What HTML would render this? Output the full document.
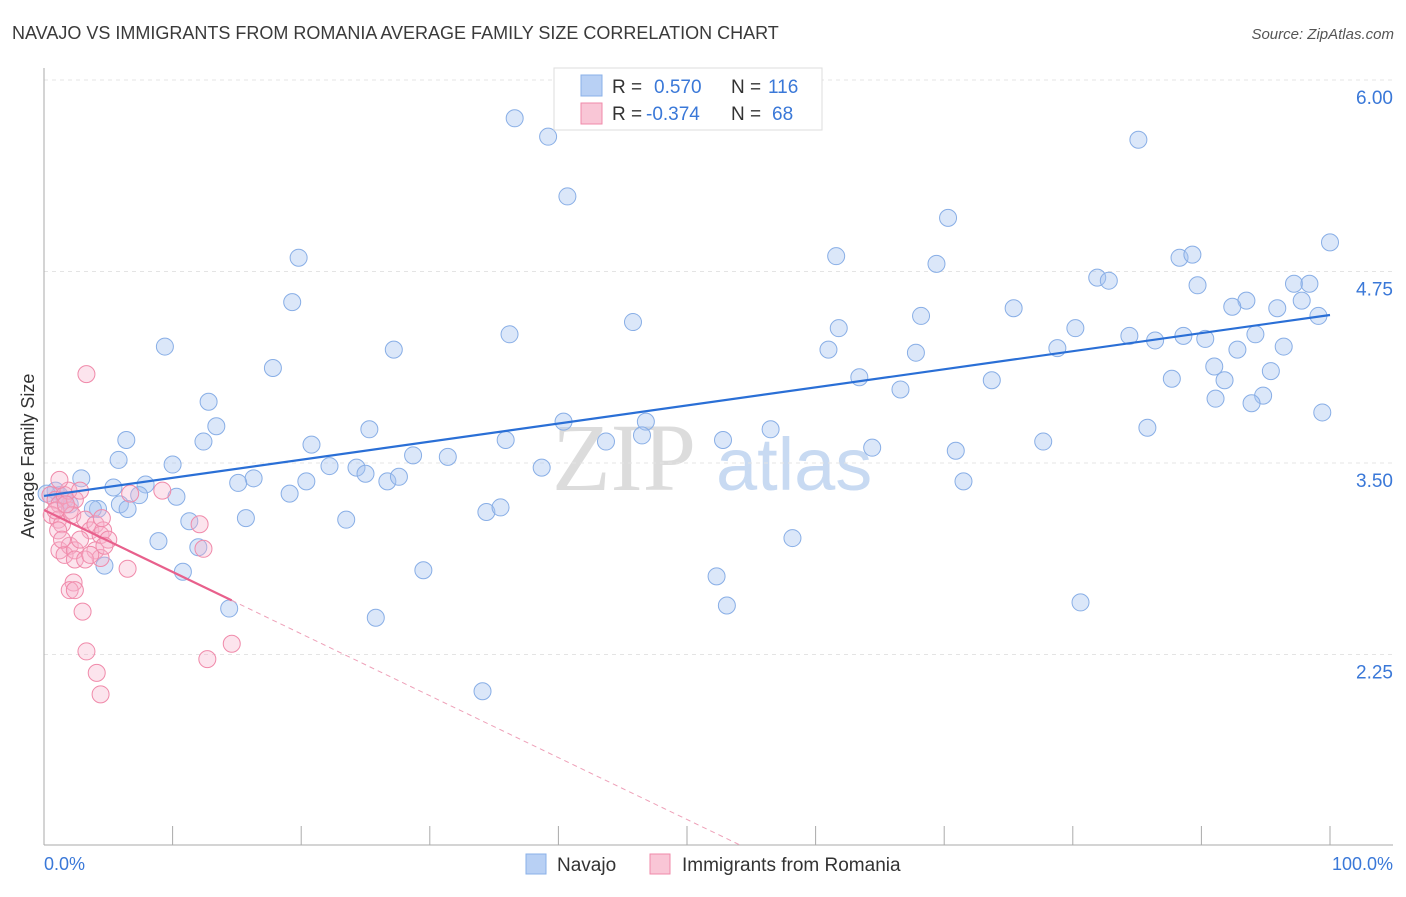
<!DOCTYPE html>
<html><head><meta charset="utf-8"><style>
body{margin:0;background:#fff;font-family:"Liberation Sans",sans-serif;}
svg text{font-family:"Liberation Sans",sans-serif;}
</style></head><body>
<svg id="c" width="1406" height="892" xmlns="http://www.w3.org/2000/svg">
<text x="12" y="39" font-size="18" fill="#3a3a3a">NAVAJO VS IMMIGRANTS FROM ROMANIA AVERAGE FAMILY SIZE CORRELATION CHART</text>
<text x="1394" y="39" font-size="15" fill="#555" font-style="italic" text-anchor="end">Source: ZipAtlas.com</text>
<g>
<text x="552" y="490" font-size="96" fill="#dcdcdc" font-family="Liberation Serif,serif" style="font-family:'Liberation Serif',serif">ZIP</text>
<text x="716" y="490" font-size="74" fill="#c8daf2">atlas</text>
</g>
<g id="grid"></g>
<g id="axes"></g>
<g id="pts"></g>
<g id="trend"></g>
<text transform="translate(34,456) rotate(-90)" font-size="18" fill="#333" text-anchor="middle">Average Family Size</text>
<text x="44" y="870" font-size="18" fill="#3a78d8">0.0%</text>
<text x="1393" y="870" font-size="18" fill="#3a78d8" text-anchor="end">100.0%</text>
<g>
<rect x="554" y="68" width="268" height="62" fill="#fff" stroke="#ddd"/>
<rect x="581" y="75" width="21" height="21" fill="#b8d0f4" stroke="#8ab0e8"/>
<rect x="581" y="103" width="21" height="21" fill="#f9c6d6" stroke="#f08aaa"/>
<text x="612" y="93" font-size="19" fill="#333">R =</text>
<text x="654" y="93" font-size="19" fill="#3a78d8">0.570</text>
<text x="731" y="93" font-size="19" fill="#333">N =</text>
<text x="768" y="93" font-size="19" fill="#3a78d8">116</text>
<text x="612" y="120" font-size="19" fill="#333">R =</text>
<text x="646" y="120" font-size="19" fill="#3a78d8">-0.374</text>
<text x="731" y="120" font-size="19" fill="#333">N =</text>
<text x="772" y="120" font-size="19" fill="#3a78d8">68</text>
</g>
<g>
<rect x="526" y="854" width="20" height="20" fill="#b8d0f4" stroke="#8ab0e8"/>
<text x="557" y="871" font-size="19" fill="#333">Navajo</text>
<rect x="650" y="854" width="20" height="20" fill="#f9c6d6" stroke="#f08aaa"/>
<text x="682" y="871" font-size="19" fill="#333">Immigrants from Romania</text>
</g>
</svg>
<script>
const yTicks=[6.00,4.75,3.50,2.25];
const yTickLabels=["6.00","4.75","3.50","2.25"];
const xTicks=[0,10,20,30,40,50,60,70,80,90,100];
const navX=[36.6,39.2,40.7,85.1,70.3,100,19.8,61.6,69.4,88.3,89.3,19.3,81.9,82.8,89.7,97.2,98.4,93.5,92.4,97.8,95.9,99.1,45.8,68.2,75.4,61.8,80.2,36.2,84.4,86.4,88.6,90.3,94.2,9.4,27.2,61.0,67.8,78.8,92.8,96.4,17.8,91.0,95.4,63.4,73.7,87.7,91.8,66.6,94.8,91.1,93.9,12.8,99.4,13.4,25.3,40.4,46.8,56.5,85.8,6.4,12.4,20.8,35.9,43.7,46.5,52.8,77.7,64.4,70.9,5.8,10.0,22.2,24.3,28.7,31.4,38.7,25.0,2.9,7.9,16.3,15.1,20.4,26.7,27.6,71.5,5.4,7.4,10.3,19.1,5.9,6.5,4.2,3.8,34.4,35.5,11.3,15.7,23.5,8.9,58.2,12.0,4.7,10.8,29.5,52.3,80.6,53.1,14.4,25.8,34.1,1.2,1.6,2.0,0.9,0.2];
const navY=[5.75,5.63,5.24,5.61,5.10,4.94,4.84,4.85,4.80,4.84,4.86,4.55,4.71,4.69,4.66,4.67,4.67,4.56,4.52,4.56,4.51,4.46,4.42,4.46,4.51,4.38,4.38,4.34,4.33,4.30,4.33,4.31,4.34,4.26,4.24,4.24,4.22,4.25,4.24,4.26,4.12,4.13,4.10,4.06,4.04,4.05,4.04,3.98,3.94,3.92,3.89,3.90,3.83,3.74,3.72,3.77,3.77,3.72,3.73,3.65,3.64,3.62,3.65,3.64,3.68,3.65,3.64,3.60,3.58,3.52,3.49,3.48,3.47,3.55,3.54,3.47,3.43,3.40,3.36,3.40,3.37,3.38,3.38,3.41,3.38,3.34,3.29,3.28,3.30,3.23,3.20,3.20,3.20,3.18,3.21,3.12,3.14,3.13,2.99,3.01,2.95,2.83,2.79,2.80,2.76,2.59,2.57,2.55,2.49,2.01,3.29,3.26,3.23,3.32,3.30];
const romX=[3.3,0.5,0.9,1.2,1.6,2.0,2.4,0.6,1.1,1.4,1.9,2.2,2.8,3.2,3.6,4.0,4.4,4.6,5.0,4.5,6.7,9.2,12.1,12.4,6.5,1.2,2.0,1.6,2.4,2.8,4.0,4.4,4.7,2.4,3.2,2.3,2.0,2.4,3.0,3.3,4.1,4.4,12.7,14.6,0.9,1.2,1.7,1.1,1.4,3.6];
const romY=[4.08,3.29,3.26,3.23,3.29,3.19,3.26,3.16,3.13,3.10,3.32,3.16,3.32,3.13,3.06,3.10,3.03,3.06,3.00,3.14,3.30,3.32,3.10,2.94,2.81,2.93,2.96,2.90,2.93,3.00,2.93,2.88,2.96,2.87,2.87,2.72,2.67,2.67,2.53,2.27,2.13,1.99,2.22,2.32,3.19,3.39,3.23,3.06,3.00,2.90];
const navTrend=[3.285,4.466];
const romTrend=[3.193,-0.0404];
const X0=44,X1=1330,YB=845,YTOP=68;
const xs=v=>X0+(X1-X0)*v/100;
const ys=v=>463-(v-3.5)*153.2;
const NS="http://www.w3.org/2000/svg";
function mk(tag,attrs,parent){const e=document.createElementNS(NS,tag);for(const k in attrs)e.setAttribute(k,attrs[k]);document.getElementById(parent).appendChild(e);return e;}
yTicks.forEach((t,i)=>{
 const l=mk('line',{x1:X0,x2:1393,y1:ys(t),y2:ys(t),stroke:'#e4e4e4','stroke-dasharray':'4,4'},'grid');
 
 
 const tx=mk('text',{x:1393,y:ys(t)+24,'font-size':19,fill:'#3a78d8','text-anchor':'end'},'grid');
 tx.textContent=yTickLabels[i];
 
 
});
let a=mk('line',{x1:X0,x2:X0,y1:YTOP,y2:YB,stroke:'#aaa'},'axes');


a=mk('line',{x1:X0,x2:1393,y1:YB,y2:YB,stroke:'#aaa'},'axes');


xTicks.forEach(t=>{const k=mk('line',{x1:xs(t),x2:xs(t),y1:826,y2:YB,stroke:'#aaa'},'axes');
 
 });
navX.forEach((x,i)=>{const c=mk('circle',{cx:xs(x),cy:ys(navY[i]),r:8.5,fill:'rgba(164,196,240,0.4)',stroke:'#88aee6','stroke-width':1},'pts');
 
 });
romX.forEach((x,i)=>{const c=mk('circle',{cx:xs(x),cy:ys(romY[i]),r:8.5,fill:'rgba(246,178,202,0.35)',stroke:'#f08aaa','stroke-width':1},'pts');
 
 });
let t=mk('line',{x1:xs(0),y1:ys(navTrend[0]),x2:xs(100),y2:ys(navTrend[1]),stroke:'#2a6fd6','stroke-width':2.2},'trend');


const rv=x=>romTrend[0]+romTrend[1]*x;
t=mk('line',{x1:xs(0),y1:ys(rv(0)),x2:xs(14.6),y2:ys(rv(14.6)),stroke:'#e8608c','stroke-width':2.2},'trend');


const xe=(romTrend[0]-1.0)/-romTrend[1];
t=mk('line',{x1:xs(14.6),y1:ys(rv(14.6)),x2:xs(xe),y2:ys(rv(xe)),stroke:'#eea0b8','stroke-width':1,'stroke-dasharray':'5,4'},'trend');


</script>
</body></html>
